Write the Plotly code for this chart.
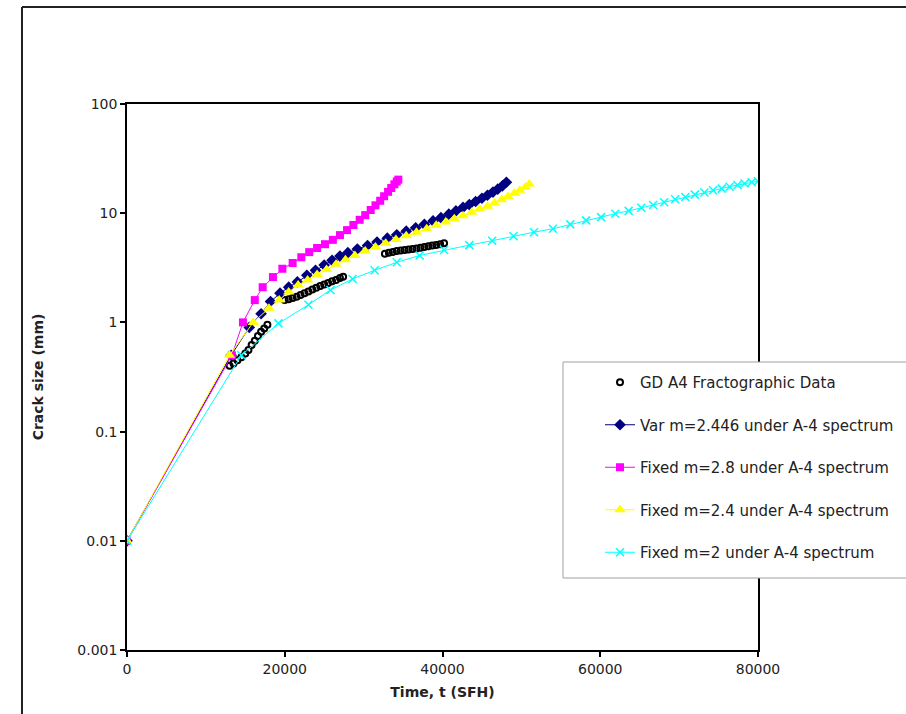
import plotly.graph_objects as go

# ---- data ----
data_t = [13000, 13500, 14000, 14500, 15000, 15400, 15800, 16200, 16600, 17000, 17400, 17800,
          20000, 20500, 21000, 21500, 22000, 22500, 23000, 23500, 24000, 24500, 25000, 25500, 26000, 26500, 27000, 27400,
          32700, 33200, 33700, 34200, 34700, 35200, 35700, 36200, 36700, 37200, 37700, 38200, 38700, 39200, 39700, 40200]
data_a = [0.40, 0.42, 0.45, 0.48, 0.52, 0.56, 0.62, 0.68, 0.75, 0.82, 0.88, 0.95,
          1.60, 1.63, 1.67, 1.72, 1.78, 1.85, 1.92, 2.00, 2.08, 2.15, 2.22, 2.30, 2.38, 2.45, 2.55, 2.62,
          4.25, 4.35, 4.42, 4.50, 4.55, 4.60, 4.65, 4.70, 4.75, 4.82, 4.90, 4.97, 5.05, 5.12, 5.20, 5.30]

var_t = [0, 13200, 15500, 17000, 18200, 19400, 20500, 21600, 22800, 23900, 25000, 26000, 27000, 28000,
         29200, 30500, 31700, 33000, 34200, 35400, 36600, 37700, 38800, 39800, 40800, 41700, 42600, 43400,
         44200, 45000, 45700, 46400, 47000, 47600, 48100]
var_a = [0.01, 0.5, 0.9, 1.2, 1.55, 1.85, 2.1, 2.35, 2.7, 3.0, 3.35, 3.7, 4.05, 4.35,
         4.7, 5.05, 5.45, 5.9, 6.35, 6.85, 7.35, 7.9, 8.5, 9.1, 9.8, 10.5, 11.3, 12.0,
         12.8, 13.7, 14.6, 15.6, 16.6, 17.8, 19.2]

m28_t = [0, 13300, 14700, 16200, 17200, 18500, 19700, 21000, 22100, 23100, 24100, 25100, 26100, 27000,
         27900, 28700, 29500, 30200, 30900, 31500, 32100, 32600, 33100, 33500, 33900, 34200, 34400]
m28_a = [0.01, 0.5, 1.0, 1.6, 2.1, 2.6, 3.1, 3.5, 3.95, 4.4, 4.8, 5.2, 5.7, 6.3,
         7.0, 7.8, 8.7, 9.6, 10.7, 11.8, 13.0, 14.3, 15.7, 17.0, 18.4, 19.5, 20.3]

m24_t = [0, 13000, 16000, 18000, 19300, 20500, 21700, 22900, 24100, 25300, 26500, 27700, 28900, 30200,
         31500, 32800, 34100, 35400, 36700, 38000, 39200, 40400, 41500, 42600, 43700, 44700, 45700, 46600,
         47500, 48300, 49100, 49800, 50500, 51000]
m24_a = [0.01, 0.5, 1.0, 1.35, 1.6, 1.9, 2.2, 2.45, 2.75, 3.05, 3.4, 3.75, 4.1, 4.5,
         4.9, 5.3, 5.75, 6.2, 6.7, 7.2, 7.75, 8.3, 8.9, 9.5, 10.2, 10.9, 11.6, 12.4,
         13.3, 14.2, 15.2, 16.2, 17.3, 18.5]

m2_t = [0, 14500, 19200, 23000, 25800, 28600, 31400, 34200, 37100, 40200, 43400, 46300, 49000, 51600,
        54000, 56200, 58200, 60100, 61900, 63600, 65200, 66700, 68100, 69500, 70800, 72000, 73200, 74300,
        75400, 76400, 77400, 78300, 79200, 80000]
m2_a = [0.01, 0.5, 0.98, 1.45, 1.98, 2.5, 3.0, 3.55, 4.1, 4.6, 5.1, 5.6, 6.15, 6.7,
        7.2, 7.9, 8.6, 9.2, 9.9, 10.5, 11.2, 11.9, 12.6, 13.4, 14.1, 14.8, 15.5, 16.2,
        16.8, 17.5, 18.1, 18.7, 19.2, 19.6]

names = ["GD A4 Fractographic Data",
         "Var m=2.446 under A-4 spectrum",
         "Fixed m=2.8 under A-4 spectrum",
         "Fixed m=2.4 under A-4 spectrum",
         "Fixed m=2 under A-4 spectrum"]

x_ticks = [0, 20000, 40000, 60000, 80000]
x_tick_text = ["0", "20000", "40000", "60000", "80000"]
y_ticks = [0.001, 0.01, 0.1, 1, 10, 100]
y_tick_text = ["0.001", "0.01", "0.1", "1", "10", "100"]

FONT = "DejaVu Sans, Liberation Sans, Arial, sans-serif"
W, H = 906, 714
L, R, T, B = 127, 148, 104, 64
PW, PH = W - L - R, H - T - B


def px(xp):
    return (xp - L) / PW


def py(yp):
    return (H - B - yp) / PH


fig = go.Figure()

fig.add_trace(go.Scatter(x=data_t, y=data_a, mode="markers", name=names[0], legendgroup="g0",
                         marker=dict(symbol="circle-open", size=6, color="black", line=dict(width=2))))
fig.add_trace(go.Scatter(x=var_t, y=var_a, mode="lines+markers", name=names[1], legendgroup="g1",
                         line=dict(color="#000080", width=1),
                         marker=dict(symbol="diamond", size=9, color="#000080")))
fig.add_trace(go.Scatter(x=m28_t, y=m28_a, mode="lines+markers", name=names[2], legendgroup="g2",
                         line=dict(color="#FF00FF", width=1),
                         marker=dict(symbol="square", size=8, color="#FF00FF")))
fig.add_trace(go.Scatter(x=m24_t, y=m24_a, mode="lines+markers", name=names[3], legendgroup="g3",
                         line=dict(color="#FFFF00", width=1),
                         marker=dict(symbol="triangle-up", size=10, color="#FFFF00")))
fig.add_trace(go.Scatter(x=m2_t, y=m2_a, mode="lines+markers", name=names[4], legendgroup="g4",
                         line=dict(color="#00FFFF", width=1),
                         marker=dict(symbol="x-thin", size=8, color="#00FFFF",
                                     line=dict(width=1.5, color="#00FFFF"))))

fig.update_xaxes(range=[0, 80000], tickvals=x_ticks, ticktext=x_tick_text, ticks="outside", ticklen=5,
                 tickwidth=1.5, tickcolor="black", showline=True, linecolor="black", linewidth=1.5,
                 mirror=True, showgrid=False, zeroline=False,
                 tickfont=dict(family=FONT, size=14, color="#222"),
                 title=dict(text="<b>Time, t (SFH)</b>", font=dict(family=FONT, size=14, color="#222"),
                            standoff=12))
fig.update_yaxes(type="log", range=[-3, 2], tickvals=y_ticks, ticktext=y_tick_text, ticks="outside",
                 ticklen=5, tickwidth=1.5, tickcolor="black", showline=True, linecolor="black",
                 linewidth=1.5, mirror=True, showgrid=False, zeroline=False,
                 tickfont=dict(family=FONT, size=14, color="#222"),
                 title=dict(text="<b>Crack size (mm)</b>", font=dict(family=FONT, size=14, color="#222"),
                            standoff=30))

shapes = [
    # outer chart frame (top and left edges)
    dict(type="line", xref="paper", yref="paper", x0=px(22), x1=px(W + 20), y0=py(7), y1=py(7),
         line=dict(color="#222", width=2)),
    dict(type="line", xref="paper", yref="paper", x0=px(22), x1=px(22), y0=py(7), y1=py(H + 20),
         line=dict(color="#222", width=2)),
    # legend box
    dict(type="rect", xref="paper", yref="paper", x0=px(563), x1=px(W + 20), y0=py(578), y1=py(362),
         line=dict(color="#a0a0a0", width=1), fillcolor="white", layer="above"),
]

fig.update_layout(
    width=W, height=H,
    margin=dict(l=L, r=R, t=T, b=B, autoexpand=False),
    paper_bgcolor="white", plot_bgcolor="white",
    showlegend=True,
    legend=dict(x=px(600), y=py(366), xanchor="left", yanchor="top",
                bgcolor="rgba(0,0,0,0)", borderwidth=0, tracegroupgap=20,
                font=dict(family=FONT, size=15, color="#222"), itemwidth=30),
    shapes=shapes,
)

fig.write_html("out.html", config={"displayModeBar": False},
               post_script="document.body.style.margin='0';document.body.style.overflow='hidden';")
